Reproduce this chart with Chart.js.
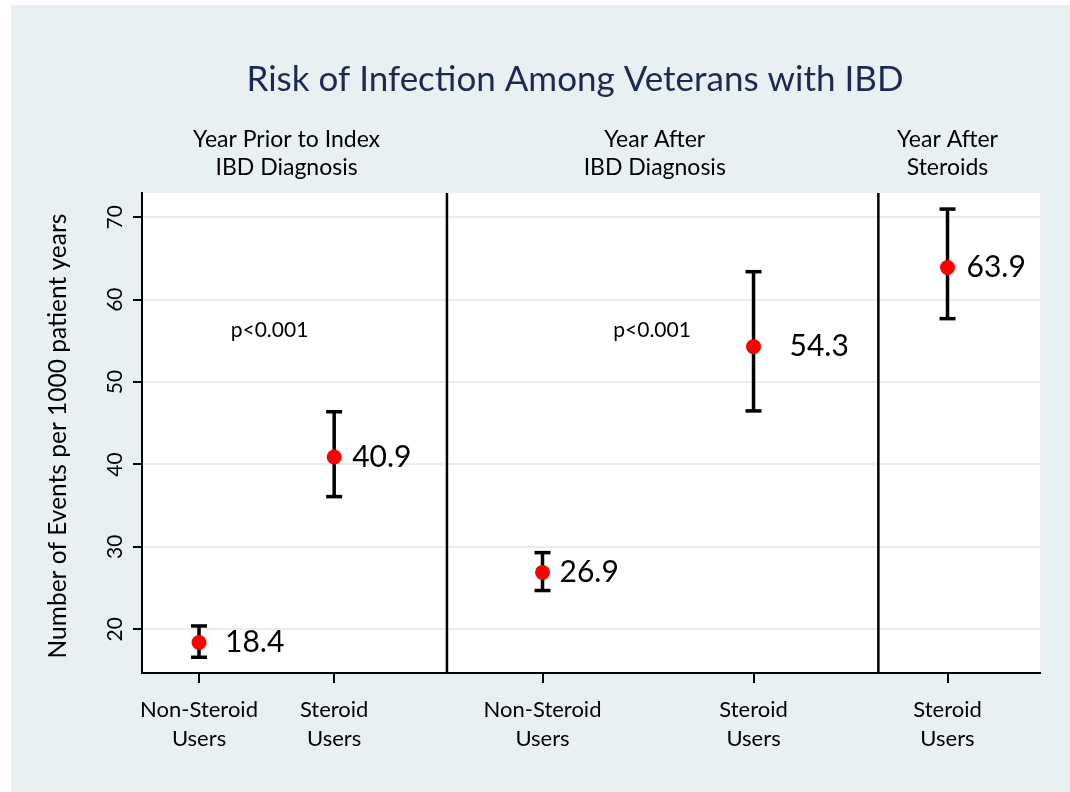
<!DOCTYPE html>
<html>
<head>
<meta charset="utf-8">
<script src="https://cdn.jsdelivr.net/npm/chart.js@4.4.1/dist/chart.umd.min.js"></script>
<style>
  html, body { margin: 0; padding: 0; background: #fff; }
  #wrap { width: 1070px; height: 792px; }
</style>
</head>
<body>
<div id="wrap"><canvas id="riskChart" width="1070" height="792"></canvas></div>
<script>
// data
const categories = [['Non-Steroid', 'Users'], ['Steroid', 'Users'], ['Non-Steroid', 'Users'], ['Steroid', 'Users'], ['Steroid', 'Users']];
const xPos = [6.35, 21.4, 44.6, 68.1, 89.7];
const rates = [18.4, 40.9, 26.9, 54.3, 63.9];
const lower = [16.6, 36.1, 24.7, 46.5, 57.7];
const upper = [20.4, 46.4, 29.3, 63.4, 71.0];
const dividers = [33.96, 82.0];
const yTicks = [20, 30, 40, 50, 60, 70];
const periods = [['Year Prior to Index', 'IBD Diagnosis'], ['Year After', 'IBD Diagnosis'], ['Year After', 'Steroids']];
const periodX = [16.1, 57.1, 89.7];
const pLabels = ['p<0.001', 'p<0.001'];
const pX = [14.2, 56.8];
const pY = [56.3, 56.3];

const yMin = 14.69, yMax = 72.95;
const FONT = 'Lato';
const labelOffset = [26, 18, 17, 36, 19];

const decor = {
    id: 'decor',
    beforeDraw(chart) {
        const { ctx, chartArea: a } = chart;
        ctx.save();
        ctx.fillStyle = '#fff';
        ctx.fillRect(0, 0, chart.width, chart.height);
        ctx.fillStyle = '#e9f0f2';
        ctx.fillRect(11, 5, chart.width - 11, chart.height - 5);
        ctx.fillStyle = '#fff';
        ctx.fillRect(a.left, a.top, a.right - a.left, a.bottom - a.top);
        ctx.restore();
    },
    afterDraw(chart) {
        const { ctx, chartArea: a } = chart;
        const xs = chart.scales.x, ys = chart.scales.y;
        ctx.save();
        ctx.fillStyle = '#000';
        ctx.textAlign = 'center';
        ctx.textBaseline = 'middle';

        // y tick labels, rotated
        ctx.font = `21px ${FONT}`;
        yTicks.forEach(v => {
            ctx.save();
            ctx.translate(115, ys.getPixelForValue(v));
            ctx.rotate(-Math.PI / 2);
            ctx.fillText(String(v), 0, 0);
            ctx.restore();
        });

        // y title
        ctx.save();
        ctx.font = `24.5px ${FONT}`;
        ctx.translate(58, (a.top + a.bottom) / 2 + 3);
        ctx.rotate(-Math.PI / 2);
        ctx.fillText('Number of Events per 1000 patient years', 0, 0);
        ctx.restore();

        // main title
        ctx.font = `35px ${FONT}`;
        ctx.fillStyle = '#1c2951';
        ctx.fillText('Risk of Infection Among Veterans with IBD', 575, 80);

        // period headers
        ctx.fillStyle = '#000';
        ctx.font = `23px ${FONT}`;
        periods.forEach((lines, i) => {
            const x = xs.getPixelForValue(periodX[i]);
            lines.forEach((t, j) => ctx.fillText(t, x, a.top - 53 + j * 28));
        });

        // p values
        ctx.font = `21px ${FONT}`;
        pLabels.forEach((t, i) => {
            ctx.fillText(t, xs.getPixelForValue(pX[i]), ys.getPixelForValue(pY[i]));
        });

        // value labels next to points
        ctx.font = `30px ${FONT}`;
        ctx.textAlign = 'left';
        const meta = chart.getDatasetMeta(0);
        meta.data.forEach((pt, i) => {
            ctx.fillText(rates[i].toFixed(1), pt.x + labelOffset[i], pt.y);
        });
        ctx.restore();
    }
};

const datasets = [{
    data: xPos.map((x, i) => ({ x, y: rates[i] })),
    pointRadius: 7.5,
    pointBackgroundColor: '#ff0000',
    pointBorderWidth: 0,
    showLine: false
}];

xPos.forEach((x, i) => {
    datasets.push({
        data: [{ x, y: lower[i] }, { x, y: upper[i] }],
        showLine: true,
        borderColor: '#000',
        borderWidth: 3.5,
        pointStyle: 'line',
        pointRadius: 8,
        pointBorderWidth: 3.5,
        pointBorderColor: '#000'
    });
});

dividers.forEach(d => {
    datasets.push({
        data: [{ x: d, y: yMin }, { x: d, y: yMax }],
        showLine: true,
        borderColor: '#000',
        borderWidth: 2.5,
        pointRadius: 0
    });
});

new Chart(document.getElementById('riskChart'), {
    type: 'scatter',
    data: { datasets },
    options: {
        responsive: false,
        animation: false,
        devicePixelRatio: 1,
        layout: { padding: { top: 193, right: 30, left: 0, bottom: 0 } },
        plugins: {
            legend: { display: false },
            tooltip: { enabled: false }
        },
        scales: {
            x: {
                type: 'linear',
                min: 0,
                max: 100,
                afterBuildTicks: s => { s.ticks = xPos.map(v => ({ value: v })); },
                afterFit: s => { s.height = 119; },
                ticks: {
                    autoSkip: false,
                    maxRotation: 0,
                    padding: 13,
                    color: '#000',
                    font: { family: FONT, size: 22, lineHeight: 1.3 },
                    callback: (v, i) => categories[i]
                },
                grid: { drawOnChartArea: false, drawTicks: true, tickLength: 10, color: '#000', lineWidth: 2 },
                border: { color: '#000', width: 2 }
            },
            y: {
                type: 'linear',
                min: yMin,
                max: yMax,
                afterBuildTicks: s => { s.ticks = yTicks.map(v => ({ value: v })); },
                afterFit: s => { s.width = 142; },
                ticks: { callback: () => '' },
                grid: { color: '#e6eef1', lineWidth: 2, tickColor: '#000', tickLength: 9 },
                border: { color: '#000', width: 2 }
            }
        }
    },
    plugins: [decor]
});
</script>
</body>
</html>
